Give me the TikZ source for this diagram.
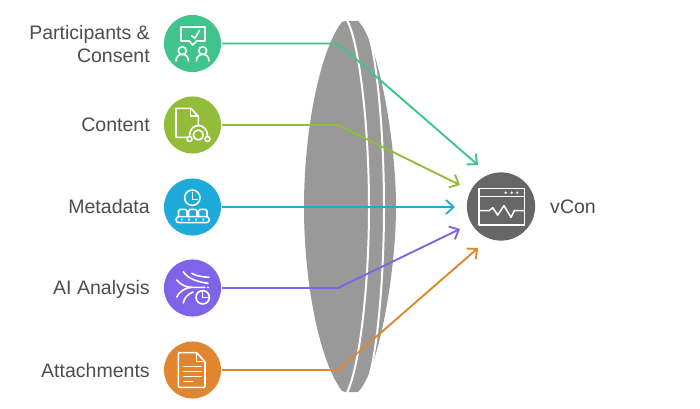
\documentclass[tikz,border=0pt]{standalone}
\usepackage{fontspec}
\setmainfont{Liberation Sans}
\usetikzlibrary{arrows.meta}
\definecolor{cgreen}{HTML}{3FC48B}
\definecolor{clime}{HTML}{93BC3B}
\definecolor{cblue}{HTML}{1EABDA}
\definecolor{cpurple}{HTML}{7F63E8}
\definecolor{corange}{HTML}{E08530}
\definecolor{cdark}{HTML}{666666}
\definecolor{clens}{HTML}{999999}
\definecolor{ctext}{HTML}{4D4D4D}
\tikzset{
  disc/.style={circle,minimum size=48.5pt,inner sep=0pt,outer sep=1pt,fill=#1},
  lab/.style={anchor=base east,align=right,inner sep=0pt,text=ctext,font=\fontsize{16.6}{19.6}\selectfont},
  conn/.style={line width=1.6pt,draw=#1,line join=round,-{Straight Barb[length=6.5pt,width=12pt,line width=1.6pt]}},
  ico/.style={draw=white,line width=1.35pt,line join=round,line cap=round},
  stripe/.style={draw=white,line width=1.7pt}
}
\begin{document}
\begin{tikzpicture}[x=0.85pt,y=-0.85pt]
\path[use as bounding box,fill=white] (0,0) rectangle (700,409);
% lens
\fill[clens] (342,22) .. controls (343,21) and (344,21) .. (345,21) -- (358,21)
  .. controls (378,40) and (396,140) .. (396,207)
  .. controls (396,274) and (378,373) .. (358,392) -- (345,392)
  .. controls (344,392) and (343,392) .. (342,391)
  .. controls (320,362) and (304,285) .. (304,207)
  .. controls (304,130) and (320,50) .. (342,22) -- cycle;
\draw[stripe] (347,20) .. controls (360,45) and (369,130) .. (369,207)
  .. controls (369,285) and (360,365) .. (347,393);
\draw[stripe] (369,36) .. controls (378,65) and (384,140) .. (384,207)
  .. controls (384,275) and (378,345) .. (369,378);
% nodes
\node[disc=cgreen] (n1) at (192.5,43.5) {};
\node[disc=clime] (n2) at (192.5,125) {};
\node[disc=cblue] (n3) at (192.5,207) {};
\node[disc=cpurple] (n4) at (192.5,288) {};
\node[disc=corange] (n5) at (192.5,370) {};
\node[circle,minimum size=58pt,inner sep=0pt,fill=cdark] (v) at (501,206.5) {};
% labels
\node[lab,anchor=east] (l1) at (150,44) {Participants \&\\Consent};
\node[lab] (l2) at (150,132) {Content};
\node[lab] (l3) at (150,214) {Metadata};
\node[lab] (l4) at (150,295) {AI Analysis};
\node[lab] (l5) at (150,377) {Attachments};
\node[lab,anchor=base west] (l6) at (550,214) {vCon};
% connectors
\coordinate (k1) at (338,43.5); \coordinate (t1) at (478,165);
\coordinate (k2) at (338,125);  \coordinate (t2) at (460,185);
\coordinate (t3) at (455,207);
\coordinate (k4) at (338,288);  \coordinate (t4) at (460,229);
\coordinate (k5) at (338,370);  \coordinate (t5) at (478,248);
\draw[conn=cgreen] (n1) -- (k1) -- (t1);
\draw[conn=clime] (n2) -- (k2) -- (t2);
\draw[conn=cblue] (n3) -- (t3);
\draw[conn=cpurple] (n4) -- (k4) -- (t4);
\draw[conn=corange] (n5) -- (k5) -- (t5);
% icon 1
\draw[ico] (181,27) -- (205,27) -- (205,41) -- (196.7,41) -- (192.7,45) -- (189.3,41) -- (181,41) -- cycle;
\draw[ico] (191.7,35.7) -- (195,38.3) -- (199.3,30.7);
\draw[ico] (182.3,50.7) circle (4);
\draw[ico] (202.7,50.7) circle (4);
\draw[ico] (176,61) .. controls (176,52) and (188.5,52) .. (188.5,61);
\draw[ico] (196.5,61) .. controls (196.5,52) and (209,52) .. (209,61);
% icon 2
\draw[ico] (188,137.3) -- (176,137.3) -- (176,108.3) -- (190.7,108.3) -- (198.3,116) -- (198.3,125);
\draw[ico] (190.7,108.3) -- (190.7,116) -- (198.3,116);
\draw[ico] (198.3,135) circle (5);
\draw[ico] (189.5,136) .. controls (189.5,122) and (207.5,122) .. (207.5,136);
\draw[ico] (189.5,139) circle (2.5);
\draw[ico] (207.5,139) circle (2.5);
% icon 3
\draw[ico] (192.3,197.7) circle (7.7);
\draw[ico] (192.3,192.5) -- (192.3,199.5) -- (197,199.5);
\draw[ico,rounded corners=1.5pt] (178.5,216.7) -- (178.5,209.3) -- (187,209.3) -- (187,216.7);
\draw[ico,rounded corners=1.5pt] (188.5,216.7) -- (188.5,209.3) -- (197,209.3) -- (197,216.7);
\draw[ico,rounded corners=1.5pt] (198.5,216.7) -- (198.5,209.3) -- (207,209.3) -- (207,216.7);
\draw[ico,rounded corners=2.5pt] (176,216.7) rectangle (209.3,222.7);
\foreach \x in {181.7,189,196,203.3} \fill[white] (\x,219.7) circle (1.2);
% icon 4
\draw[ico] (183.3,271.7) .. controls (188,279) and (198,282) .. (208,283.3);
\draw[ico] (191.7,273.3) .. controls (196,276) and (203,277) .. (209,277.3);
\draw[ico] (176.7,280) .. controls (181,285) and (186,287.3) .. (191.7,287.3) -- (205,287.3);
\draw[ico] (176.7,297) .. controls (179,292) and (185,287.5) .. (191.7,287.3);
\draw[ico] (183.3,303) .. controls (184,298) and (188,294) .. (193,292);
\fill[white] (208,287.3) circle (1);
\draw[ico] (202.7,297.3) circle (6.7);
\draw[ico] (202.7,291) -- (202.7,297.3) -- (209,297.3);
% icon 5
\draw[ico,rounded corners=0.8pt] (196.7,352.7) -- (178.3,352.7) -- (178.3,387.3) -- (205,387.3) -- (205,361.7) -- cycle;
\draw[ico] (196.7,352.7) -- (196.7,361.7) -- (205,361.7);
\foreach \y in {366.7,371.7,376.7} \draw[ico] (184,\y) -- (201,\y);
\draw[ico] (184,381.3) -- (192.7,381.3);
% vCon icon
\draw[ico] (479,188.3) rectangle (524.3,225);
\draw[ico] (479,196.7) -- (524.3,196.7);
\foreach \x in {505.7,511.7,517.3} \fill[white] (\x,192.7) circle (1.3);
\draw[ico] (480,210.7) -- (489.3,210.7) -- (492.7,207.7) -- (497.7,215) -- (504,205.7) -- (511,217.3) -- (514.3,210.7) -- (524,210.7);
\end{tikzpicture}
\end{document}
